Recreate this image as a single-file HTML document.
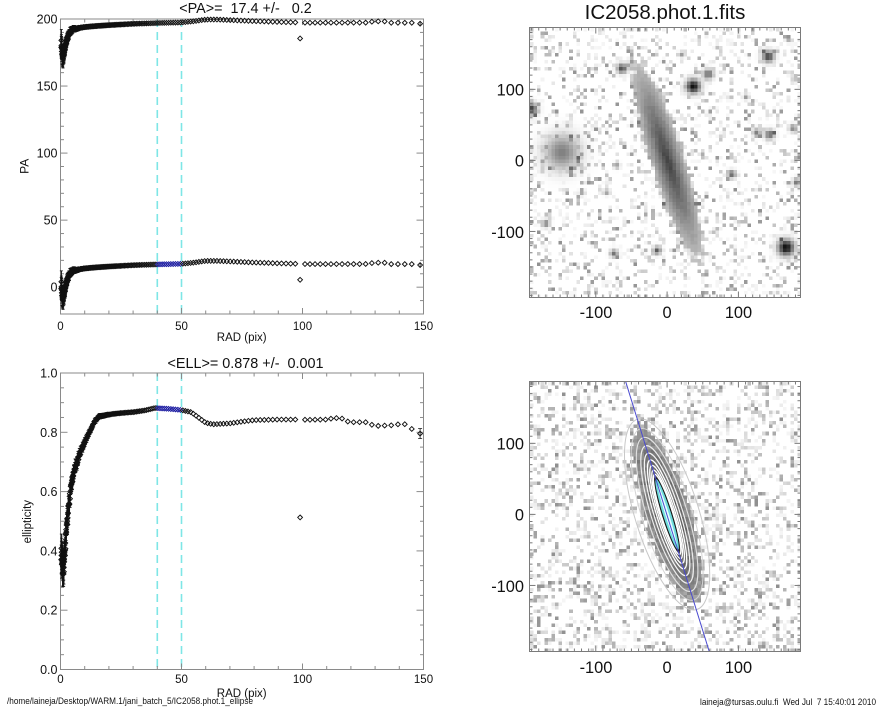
<!DOCTYPE html>
<html><head><meta charset="utf-8"><title>IC2058 ellipse</title>
<style>
html,body{margin:0;padding:0;background:#fff}
body{width:885px;height:708px;position:relative;overflow:hidden}
canvas{position:absolute;image-rendering:pixelated}
svg{position:absolute;left:0;top:0}
text{font-family:"Liberation Sans",Arial,Helvetica,sans-serif;fill:#111}
</style></head><body>
<canvas id="c1" width="76" height="76" style="left:529.5px;top:27.5px;width:271px;height:270px"></canvas>
<canvas id="c2" width="76" height="76" style="left:529.5px;top:381.5px;width:271px;height:270px"></canvas>
<svg width="885" height="708" viewBox="0 0 885 708" xmlns="http://www.w3.org/2000/svg">
<g id="dyn"></g>
<text x="245.5" y="13" font-size="14.4" text-anchor="middle" style="white-space:pre">&lt;PA&gt;=  17.4 +/-   0.2</text>
<text x="57.5" y="291.7" font-size="12.5" text-anchor="end">0</text>
<text x="57.5" y="224.6" font-size="12.5" text-anchor="end">50</text>
<text x="57.5" y="157.6" font-size="12.5" text-anchor="end">100</text>
<text x="57.5" y="90.5" font-size="12.5" text-anchor="end">150</text>
<text x="57.5" y="23.5" font-size="12.5" text-anchor="end">200</text>
<text x="60.5" y="330" font-size="11.5" text-anchor="middle">0</text>
<text x="181.5" y="330" font-size="11.5" text-anchor="middle">50</text>
<text x="302.5" y="330" font-size="11.5" text-anchor="middle">100</text>
<text x="423.5" y="330" font-size="11.5" text-anchor="middle">150</text>
<text x="241.7" y="341" font-size="11.5" text-anchor="middle">RAD (pix)</text>
<text transform="translate(28.5,166.3) rotate(-90)" font-size="12" text-anchor="middle">PA</text>
<text x="245.5" y="368" font-size="14.4" text-anchor="middle" style="white-space:pre">&lt;ELL&gt;= 0.878 +/-  0.001</text>
<text x="57.5" y="674" font-size="12.5" text-anchor="end">0.0</text>
<text x="57.5" y="614.7" font-size="12.5" text-anchor="end">0.2</text>
<text x="57.5" y="555.4" font-size="12.5" text-anchor="end">0.4</text>
<text x="57.5" y="496.1" font-size="12.5" text-anchor="end">0.6</text>
<text x="57.5" y="436.8" font-size="12.5" text-anchor="end">0.8</text>
<text x="57.5" y="377.5" font-size="12.5" text-anchor="end">1.0</text>
<text x="60.5" y="683" font-size="11.5" text-anchor="middle">0</text>
<text x="181.5" y="683" font-size="11.5" text-anchor="middle">50</text>
<text x="302.5" y="683" font-size="11.5" text-anchor="middle">100</text>
<text x="423.5" y="683" font-size="11.5" text-anchor="middle">150</text>
<text x="241.7" y="697" font-size="11.5" text-anchor="middle">RAD (pix)</text>
<text transform="translate(31,521.7) rotate(-90)" font-size="11.5" text-anchor="middle">ellipticity</text>
<text x="665" y="19" font-size="20.5" text-anchor="middle">IC2058.phot.1.fits</text>
<text x="524" y="95.3" font-size="16.4" text-anchor="end">100</text>
<text x="524" y="166.4" font-size="16.4" text-anchor="end">0</text>
<text x="524" y="238" font-size="16.4" text-anchor="end">-100</text>
<text x="596" y="318" font-size="16.4" text-anchor="middle">-100</text>
<text x="667" y="318" font-size="16.4" text-anchor="middle">0</text>
<text x="738.5" y="318" font-size="16.4" text-anchor="middle">100</text>
<text x="524" y="449.5" font-size="16.4" text-anchor="end">100</text>
<text x="524" y="520.5" font-size="16.4" text-anchor="end">0</text>
<text x="524" y="592" font-size="16.4" text-anchor="end">-100</text>
<text x="596" y="673" font-size="16.4" text-anchor="middle">-100</text>
<text x="667" y="673" font-size="16.4" text-anchor="middle">0</text>
<text x="738.5" y="673" font-size="16.4" text-anchor="middle">100</text>
<text x="7" y="704" font-size="9.5" textLength="246" lengthAdjust="spacingAndGlyphs">/home/laineja/Desktop/WARM.1/jani_batch_5/IC2058.phot.1_ellipse</text>
<text x="700" y="705" font-size="9.5" textLength="176" lengthAdjust="spacingAndGlyphs" style="white-space:pre">laineja@tursas.oulu.fi  Wed Jul  7 15:40:01 2010</text>
</svg>
<script>
(function(){
function rng(a){return function(){a|=0;a=a+0x6D2B79F5|0;var t=Math.imul(a^a>>>15,1|a);t=t+Math.imul(t^t>>>7,61|t)^t;return((t^t>>>14)>>>0)/4294967296;};}
var s='';
function f(n){return n.toFixed(2);}
function L(x1,y1,x2,y2,c,w,ex){s+='<line x1="'+f(x1)+'" y1="'+f(y1)+'" x2="'+f(x2)+'" y2="'+f(y2)+'" stroke="'+c+'" stroke-width="'+(w||1)+'"'+(ex||'')+'/>';}
var FR='#8a8a8a';
function X(r){return 60.5+r*2.42;}
function Y1(v){return 314-(v+20)*1.3409;}
function Y2(e){return 669.5-e*296.5;}
[40,50].forEach(function(r){var x=X(r);
 L(x,19,x,314,'#7ee6e6',1.6,' stroke-dasharray="8,5"');
 L(x,373,x,669.5,'#7ee6e6',1.6,' stroke-dasharray="8,5"');});
s+='<rect x="60.5" y="19" width="363" height="295" fill="none" stroke="'+FR+'"/>';
s+='<rect x="60.5" y="373" width="363" height="296.5" fill="none" stroke="'+FR+'"/>';
var r,x,y,len,v,k;
for(r=0;r<=150;r+=10){x=X(r);len=(r%50==0)?6:3.5;
 L(x,314,x,314-len,FR);L(x,19,x,19+len,FR);L(x,669.5,x,669.5-len,FR);L(x,373,x,373+len,FR);}
for(v=-20;v<=200;v+=10){y=Y1(v);len=(v%50==0)?7:3.5;L(60.5,y,60.5+len,y,FR);L(423.5,y,423.5-len,y,FR);}
for(k=0;k<=20;k++){y=Y2(k*0.05);len=(k%4==0)?7:3.5;L(60.5,y,60.5+len,y,FR);L(423.5,y,423.5-len,y,FR);}

function interp(p,r){if(r<=p[0][0])return p[0][1];for(var i=1;i<p.length;i++){if(r<=p[i][0]){var a=p[i-1],b=p[i];return a[1]+(b[1]-a[1])*(r-a[0])/(b[0]-a[0]);}}return p[p.length-1][1];}
var paPts=[[0.3,2],[0.6,-4],[1,-8],[1.5,-5],[2,0],[3,6],[4,10.5],[5,12.3],[7,13],[10,14],[15,14.8],[20,15.4],[30,16.4],[40,17],[50,17.4],[55,18.3],[60,19.6],[65,19.6],[70,19.2],[80,18.4],[90,17.8],[98,17.4],[102,17.2],[128,17.3],[129,18.3],[135,18.2],[136,17.2],[146,17.2],[148,16.5]];
var ePts=[[0.3,0.4],[0.7,0.36],[1,0.33],[1.5,0.36],[2,0.42],[3,0.52],[4,0.595],[6,0.68],[8,0.73],[10,0.765],[12,0.8],[14,0.835],[16,0.853],[20,0.86],[25,0.865],[30,0.868],[35,0.874],[39,0.882],[45,0.879],[50,0.875],[54,0.868],[57,0.85],[60,0.832],[63,0.827],[70,0.83],[75,0.836],[80,0.841],[90,0.843],[99,0.843],[102,0.842],[110,0.843],[113,0.848],[116,0.848],[118,0.838],[119.8,0.834],[127,0.834],[129.5,0.821],[137.7,0.824],[140.2,0.828],[143,0.827],[146,0.805],[148.8,0.795]];
var R=rng(7);
var rs=[],rr=0.3;while(rr<147.5){rs.push(rr);rr=rr*1.02+0.04;}
rs.push(148.6);
var io=0;rs.forEach(function(q,i){if(Math.abs(q-100)<Math.abs(rs[io]-100))io=i;});
function D(x,y,c){var h=2.4;s+='<path d="M'+f(x)+' '+f(y-h)+'l'+h+' '+h+'l-'+h+' '+h+'l-'+h+' -'+h+'z" fill="none" stroke="'+c+'" stroke-width="0.95"/>';}
var last=rs.length-1;
rs.forEach(function(r,i){
 var pa=interp(paPts,r)+(R()-0.5)*7*Math.exp(-r/3);
 var el=interp(ePts,r)+(R()-0.5)*0.07*Math.exp(-r/5);
 if(i==io){pa=5.5;el=0.513;}
 var blue=(r>=40&&r<=50.5);
 var epa=8*Math.exp(-r/3)+1.0, eel=0.045*Math.exp(-r/6)+0.006;
 if(i==last){epa=1.2;eel=0.017;}
 var x=X(r);
 if(r<25||i==last){
  var lw=(i==last)?0.8:1.1;
  L(x,Y1(pa-epa),x,Y1(pa+epa),'#111',lw);
  L(x,Y1(pa+180-epa),x,Y1(pa+180+epa),'#111',lw);
  L(x,Y2(el-eel),x,Y2(el+eel),'#111',lw);
  if(r<20){L(x-1.5,Y1(pa-epa),x+1.5,Y1(pa-epa),'#111',0.8);L(x-1.5,Y1(pa+epa),x+1.5,Y1(pa+epa),'#111',0.8);
   L(x-1.5,Y1(pa+180-epa),x+1.5,Y1(pa+180-epa),'#111',0.8);L(x-1.5,Y1(pa+180+epa),x+1.5,Y1(pa+180+epa),'#111',0.8);
   L(x-1.5,Y2(el-eel),x+1.5,Y2(el-eel),'#111',0.8);L(x-1.5,Y2(el+eel),x+1.5,Y2(el+eel),'#111',0.8);}
  if(i==last){L(x-2,Y2(el-eel),x+2,Y2(el-eel),'#222',0.8);L(x-2,Y2(el+eel),x+2,Y2(el+eel),'#222',0.8);}
 }
 D(x,Y1(pa),blue?'#1a1aa0':'#111');
 D(x,Y1(pa+180),'#111');
 D(x,Y2(el),blue?'#1a1aa0':'#111');
});

var th=17.4*Math.PI/180,sn=Math.sin(th),cs=Math.cos(th);
var stars=[[-148,12,17,0.5],[36,105,7,0.95],[141,147,6,0.75],[166,-122,8,0.95],[-64,130,5,0.7],[57,122,5,0.6],[-191,73,6,0.75],[143,37,5,0.6],[125,40,4,0.5],[90,-19,4,0.6],[-15,-126,4,0.65],[-75,-130,4,0.55],[-171,-88,4,0.5],[181,-30,4,0.55],[176,46,4,0.5],[-71,-7,3,0.4],[-85,-44,3,0.4],[-120,-45,3,0.35],[20,150,3,0.4],[110,90,3,0.4]];
function topFn(x,y,R){
 var a=-x*sn+y*cs,b=x*cs+y*sn;
 var r=Math.sqrt(a*a*1.2+(b/0.15)*(b/0.15));
 var d=0;
 if(r<150) d=0.76-0.0032*r+(R()-0.5)*0.04;
 else if(r<190&&R()<(190-r)/45) d=0.08+0.2*R();
 for(var i=0;i<stars.length;i++){var st=stars[i],dx=x-st[0],dy=y-st[1];d+=st[3]*Math.exp(-(dx*dx+dy*dy)/(2*st[2]*st[2]));}
 if(d<0.25&&R()<0.28) d+=0.03+0.4*Math.pow(R(),2.2);
 return d;
}
function botFn(x,y,R){
 var a=-x*sn+y*cs,b=x*cs+y*sn;
 var r=Math.sqrt(a*a+(b/0.24)*(b/0.24));
 var d=0;
 if(R()<0.34) d=0.04+0.4*Math.pow(R(),1.9);
 if(r<150){var gd=0.8-0.0032*r+(R()-0.5)*0.15;if(r<120||R()<(150-r)/30)d=Math.max(d,gd);}
 return d;
}
function drawImg(id,fn,seed){var cv=document.getElementById(id),ctx=cv.getContext('2d'),N=76,im=ctx.createImageData(N,N),Rr=rng(seed);
 for(var j=0;j<N;j++)for(var i=0;i<N;i++){var x=-193+5*i+2.5,y=187-5*j-2.5;var d=fn(x,y,Rr);d=Math.max(0,Math.min(1,d));var g=Math.round(255*(1-d));var p=(j*N+i)*4;im.data[p]=g;im.data[p+1]=g;im.data[p+2]=g;im.data[p+3]=255;}
 ctx.putImageData(im,0,0);}
drawImg('c1',topFn,101);
drawImg('c2',botFn,202);

var kk=0.712;
s+='<g transform="translate(667.1,514.4) rotate(-17.4)">';
var ells=[[140,0.32,'#c8c8c8',1],[126,0.28,'#d4d4d4',1],[113,0.25,'#e0e0e0',1.1],[101,0.22,'#ececec',1.2],[90,0.2,'#f4f4f4',1.2],[80,0.18,'#ffffff',1.3],[72,0.165,'#ffffff',1.3],[65,0.15,'#ffffff',1.3],[59,0.14,'#ffffff',1.3]];
ells.forEach(function(e){s+='<ellipse cx="0" cy="0" rx="'+f(e[0]*e[1]*kk)+'" ry="'+f(e[0]*kk)+'" fill="none" stroke="'+e[2]+'" stroke-width="'+e[3]+'"/>';});
s+='<ellipse cx="0" cy="0" rx="'+f(55*0.13*kk)+'" ry="'+f(55*kk)+'" fill="#151515"/>';
s+='<ellipse cx="0" cy="0" rx="'+f(52*0.11*kk)+'" ry="'+f(52*kk)+'" fill="#6fdcdc"/>';
s+='<ellipse cx="0" cy="0" rx="'+f(44*0.06*kk)+'" ry="'+f(44*kk)+'" fill="#e6ffff"/>';
s+='</g>';
L(625.7,381.7,709.3,651.7,'#4a4ad0',1);
function imgAxes(y0,y1,cy){
 var k=0.7132,cx=667.1,x0=529.5,x1=800.5,ky=(y1-y0)/380,C='#7a7a7a';
 s+='<rect x="'+x0+'" y="'+y0+'" width="'+(x1-x0)+'" height="'+(y1-y0)+'" fill="none" stroke="'+C+'"/>';
 for(var v=-190;v<=180;v+=10){var len=(v%100==0)?6:3;var x=cx+v*k;L(x,y1,x,y1-len,C);L(x,y0,x,y0+len,C);
  var y=cy-v*ky;L(x0,y,x0+len,y,C);L(x1,y,x1-len,y,C);}
}
imgAxes(27.5,297.5,160.4);
imgAxes(381.5,651.5,514.4);
document.getElementById('dyn').innerHTML=s;
})();
</script>
</body></html>
